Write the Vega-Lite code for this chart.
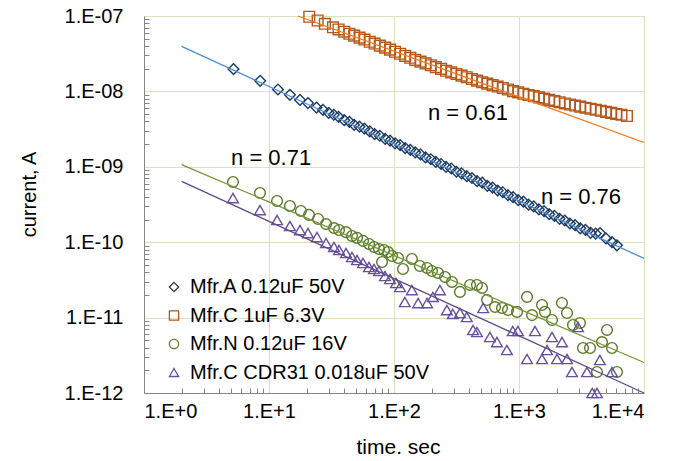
{
  "$schema": "https://vega.github.io/schema/vega-lite/v6.json",
  "width": 500,
  "height": 377,
  "autosize": {"type": "none"},
  "padding": {"left": 144, "top": 16, "right": 37, "bottom": 68},
  "background": "white",
  "config": {
    "view": {"stroke": "#868686", "strokeWidth": 1},
    "font": "Liberation Sans",
    "legend": {
      "orient": "none", "legendX": 20, "legendY": 261, "padding": 0,
      "labelFont": "Liberation Sans", "labelFontSize": 20, "labelColor": "#000000", "labelLimit": 400,
      "symbolSize": 85, "symbolStrokeWidth": 1.3, "symbolOpacity": 1,
      "rowPadding": 8.5, "labelOffset": 6
    }
  },
  "datasets": {
    "pts": [
      {"s": "Mfr.A 0.12uF 50V", "t": 5.2, "i": 1.98e-8},
      {"s": "Mfr.A 0.12uF 50V", "t": 8.5, "i": 1.38e-8},
      {"s": "Mfr.A 0.12uF 50V", "t": 11.8, "i": 1.06e-8},
      {"s": "Mfr.A 0.12uF 50V", "t": 14.7, "i": 9.0e-9},
      {"s": "Mfr.A 0.12uF 50V", "t": 17.7, "i": 7.7e-9},
      {"s": "Mfr.A 0.12uF 50V", "t": 20.5, "i": 7.0e-9},
      {"s": "Mfr.A 0.12uF 50V", "t": 24, "i": 6.1e-9},
      {"s": "Mfr.A 0.12uF 50V", "t": 27, "i": 5.7e-9},
      {"s": "Mfr.A 0.12uF 50V", "t": 30, "i": 5.2e-9},
      {"s": "Mfr.A 0.12uF 50V", "t": 33, "i": 4.9e-9},
      {"s": "Mfr.A 0.12uF 50V", "t": 36, "i": 4.6e-9},
      {"s": "Mfr.A 0.12uF 50V", "t": 40, "i": 4.15e-9},
      {"s": "Mfr.A 0.12uF 50V", "t": 44, "i": 3.95e-9},
      {"s": "Mfr.A 0.12uF 50V", "t": 48, "i": 3.6e-9},
      {"s": "Mfr.A 0.12uF 50V", "t": 53, "i": 3.4e-9},
      {"s": "Mfr.A 0.12uF 50V", "t": 58, "i": 3.2e-9},
      {"s": "Mfr.A 0.12uF 50V", "t": 64, "i": 2.95e-9},
      {"s": "Mfr.A 0.12uF 50V", "t": 70, "i": 2.72e-9},
      {"s": "Mfr.A 0.12uF 50V", "t": 77, "i": 2.58e-9},
      {"s": "Mfr.A 0.12uF 50V", "t": 85, "i": 2.35e-9},
      {"s": "Mfr.A 0.12uF 50V", "t": 93, "i": 2.22e-9},
      {"s": "Mfr.A 0.12uF 50V", "t": 102, "i": 2.05e-9},
      {"s": "Mfr.A 0.12uF 50V", "t": 112, "i": 1.94e-9},
      {"s": "Mfr.A 0.12uF 50V", "t": 123, "i": 1.77e-9},
      {"s": "Mfr.A 0.12uF 50V", "t": 135, "i": 1.68e-9},
      {"s": "Mfr.A 0.12uF 50V", "t": 148, "i": 1.55e-9},
      {"s": "Mfr.A 0.12uF 50V", "t": 163, "i": 1.46e-9},
      {"s": "Mfr.A 0.12uF 50V", "t": 179, "i": 1.33e-9},
      {"s": "Mfr.A 0.12uF 50V", "t": 197, "i": 1.26e-9},
      {"s": "Mfr.A 0.12uF 50V", "t": 216, "i": 1.16e-9},
      {"s": "Mfr.A 0.12uF 50V", "t": 238, "i": 1.09e-9},
      {"s": "Mfr.A 0.12uF 50V", "t": 261, "i": 1.0e-9},
      {"s": "Mfr.A 0.12uF 50V", "t": 287, "i": 9.5e-10},
      {"s": "Mfr.A 0.12uF 50V", "t": 316, "i": 8.6e-10},
      {"s": "Mfr.A 0.12uF 50V", "t": 347, "i": 8.2e-10},
      {"s": "Mfr.A 0.12uF 50V", "t": 382, "i": 7.5e-10},
      {"s": "Mfr.A 0.12uF 50V", "t": 420, "i": 7.1e-10},
      {"s": "Mfr.A 0.12uF 50V", "t": 462, "i": 6.45e-10},
      {"s": "Mfr.A 0.12uF 50V", "t": 508, "i": 6.15e-10},
      {"s": "Mfr.A 0.12uF 50V", "t": 558, "i": 5.6e-10},
      {"s": "Mfr.A 0.12uF 50V", "t": 614, "i": 5.3e-10},
      {"s": "Mfr.A 0.12uF 50V", "t": 675, "i": 4.85e-10},
      {"s": "Mfr.A 0.12uF 50V", "t": 742, "i": 4.6e-10},
      {"s": "Mfr.A 0.12uF 50V", "t": 816, "i": 4.2e-10},
      {"s": "Mfr.A 0.12uF 50V", "t": 897, "i": 3.95e-10},
      {"s": "Mfr.A 0.12uF 50V", "t": 986, "i": 3.62e-10},
      {"s": "Mfr.A 0.12uF 50V", "t": 1085, "i": 3.45e-10},
      {"s": "Mfr.A 0.12uF 50V", "t": 1193, "i": 3.15e-10},
      {"s": "Mfr.A 0.12uF 50V", "t": 1312, "i": 2.98e-10},
      {"s": "Mfr.A 0.12uF 50V", "t": 1443, "i": 2.72e-10},
      {"s": "Mfr.A 0.12uF 50V", "t": 1587, "i": 2.58e-10},
      {"s": "Mfr.A 0.12uF 50V", "t": 1745, "i": 2.35e-10},
      {"s": "Mfr.A 0.12uF 50V", "t": 1920, "i": 2.24e-10},
      {"s": "Mfr.A 0.12uF 50V", "t": 2112, "i": 2.04e-10},
      {"s": "Mfr.A 0.12uF 50V", "t": 2323, "i": 1.94e-10},
      {"s": "Mfr.A 0.12uF 50V", "t": 2555, "i": 1.77e-10},
      {"s": "Mfr.A 0.12uF 50V", "t": 2810, "i": 1.68e-10},
      {"s": "Mfr.A 0.12uF 50V", "t": 3090, "i": 1.53e-10},
      {"s": "Mfr.A 0.12uF 50V", "t": 3400, "i": 1.46e-10},
      {"s": "Mfr.A 0.12uF 50V", "t": 3740, "i": 1.33e-10},
      {"s": "Mfr.A 0.12uF 50V", "t": 4110, "i": 1.3e-10},
      {"s": "Mfr.A 0.12uF 50V", "t": 4450, "i": 1.32e-10},
      {"s": "Mfr.A 0.12uF 50V", "t": 4970, "i": 1.12e-10},
      {"s": "Mfr.A 0.12uF 50V", "t": 5550, "i": 1.0e-10},
      {"s": "Mfr.A 0.12uF 50V", "t": 6080, "i": 9.1e-11},
      {"s": "Mfr.C 1uF 6.3V", "t": 21, "i": 9.77e-8},
      {"s": "Mfr.C 1uF 6.3V", "t": 24.5, "i": 8.71e-8},
      {"s": "Mfr.C 1uF 6.3V", "t": 28, "i": 7.88e-8},
      {"s": "Mfr.C 1uF 6.3V", "t": 32.5, "i": 7.08e-8},
      {"s": "Mfr.C 1uF 6.3V", "t": 36, "i": 6.63e-8},
      {"s": "Mfr.C 1uF 6.3V", "t": 40, "i": 6.19e-8},
      {"s": "Mfr.C 1uF 6.3V", "t": 44, "i": 5.82e-8},
      {"s": "Mfr.C 1uF 6.3V", "t": 48, "i": 5.5e-8},
      {"s": "Mfr.C 1uF 6.3V", "t": 53, "i": 5.16e-8},
      {"s": "Mfr.C 1uF 6.3V", "t": 58, "i": 4.87e-8},
      {"s": "Mfr.C 1uF 6.3V", "t": 64, "i": 4.56e-8},
      {"s": "Mfr.C 1uF 6.3V", "t": 70, "i": 4.31e-8},
      {"s": "Mfr.C 1uF 6.3V", "t": 77, "i": 4.05e-8},
      {"s": "Mfr.C 1uF 6.3V", "t": 85, "i": 3.8e-8},
      {"s": "Mfr.C 1uF 6.3V", "t": 93, "i": 3.58e-8},
      {"s": "Mfr.C 1uF 6.3V", "t": 102, "i": 3.36e-8},
      {"s": "Mfr.C 1uF 6.3V", "t": 112, "i": 3.16e-8},
      {"s": "Mfr.C 1uF 6.3V", "t": 123, "i": 2.96e-8},
      {"s": "Mfr.C 1uF 6.3V", "t": 135, "i": 2.79e-8},
      {"s": "Mfr.C 1uF 6.3V", "t": 148, "i": 2.62e-8},
      {"s": "Mfr.C 1uF 6.3V", "t": 163, "i": 2.48e-8},
      {"s": "Mfr.C 1uF 6.3V", "t": 179, "i": 2.35e-8},
      {"s": "Mfr.C 1uF 6.3V", "t": 197, "i": 2.22e-8},
      {"s": "Mfr.C 1uF 6.3V", "t": 216, "i": 2.1e-8},
      {"s": "Mfr.C 1uF 6.3V", "t": 238, "i": 1.99e-8},
      {"s": "Mfr.C 1uF 6.3V", "t": 261, "i": 1.88e-8},
      {"s": "Mfr.C 1uF 6.3V", "t": 287, "i": 1.79e-8},
      {"s": "Mfr.C 1uF 6.3V", "t": 316, "i": 1.7e-8},
      {"s": "Mfr.C 1uF 6.3V", "t": 347, "i": 1.62e-8},
      {"s": "Mfr.C 1uF 6.3V", "t": 382, "i": 1.54e-8},
      {"s": "Mfr.C 1uF 6.3V", "t": 420, "i": 1.46e-8},
      {"s": "Mfr.C 1uF 6.3V", "t": 462, "i": 1.39e-8},
      {"s": "Mfr.C 1uF 6.3V", "t": 508, "i": 1.32e-8},
      {"s": "Mfr.C 1uF 6.3V", "t": 558, "i": 1.27e-8},
      {"s": "Mfr.C 1uF 6.3V", "t": 614, "i": 1.21e-8},
      {"s": "Mfr.C 1uF 6.3V", "t": 675, "i": 1.16e-8},
      {"s": "Mfr.C 1uF 6.3V", "t": 742, "i": 1.11e-8},
      {"s": "Mfr.C 1uF 6.3V", "t": 816, "i": 1.06e-8},
      {"s": "Mfr.C 1uF 6.3V", "t": 897, "i": 1.01e-8},
      {"s": "Mfr.C 1uF 6.3V", "t": 986, "i": 9.7e-9},
      {"s": "Mfr.C 1uF 6.3V", "t": 1085, "i": 9.31e-9},
      {"s": "Mfr.C 1uF 6.3V", "t": 1193, "i": 8.97e-9},
      {"s": "Mfr.C 1uF 6.3V", "t": 1312, "i": 8.65e-9},
      {"s": "Mfr.C 1uF 6.3V", "t": 1443, "i": 8.34e-9},
      {"s": "Mfr.C 1uF 6.3V", "t": 1587, "i": 8.02e-9},
      {"s": "Mfr.C 1uF 6.3V", "t": 1745, "i": 7.73e-9},
      {"s": "Mfr.C 1uF 6.3V", "t": 1920, "i": 7.45e-9},
      {"s": "Mfr.C 1uF 6.3V", "t": 2112, "i": 7.18e-9},
      {"s": "Mfr.C 1uF 6.3V", "t": 2323, "i": 6.92e-9},
      {"s": "Mfr.C 1uF 6.3V", "t": 2555, "i": 6.7e-9},
      {"s": "Mfr.C 1uF 6.3V", "t": 2810, "i": 6.49e-9},
      {"s": "Mfr.C 1uF 6.3V", "t": 3090, "i": 6.28e-9},
      {"s": "Mfr.C 1uF 6.3V", "t": 3400, "i": 6.08e-9},
      {"s": "Mfr.C 1uF 6.3V", "t": 3740, "i": 5.89e-9},
      {"s": "Mfr.C 1uF 6.3V", "t": 4110, "i": 5.71e-9},
      {"s": "Mfr.C 1uF 6.3V", "t": 4520, "i": 5.53e-9},
      {"s": "Mfr.C 1uF 6.3V", "t": 4970, "i": 5.36e-9},
      {"s": "Mfr.C 1uF 6.3V", "t": 5470, "i": 5.19e-9},
      {"s": "Mfr.C 1uF 6.3V", "t": 6000, "i": 5.02e-9},
      {"s": "Mfr.C 1uF 6.3V", "t": 6600, "i": 4.9e-9},
      {"s": "Mfr.C 1uF 6.3V", "t": 7300, "i": 4.72e-9},
      {"s": "Mfr.N 0.12uF 16V", "t": 5.15, "i": 6.28e-10},
      {"s": "Mfr.N 0.12uF 16V", "t": 8.47, "i": 4.5e-10},
      {"s": "Mfr.N 0.12uF 16V", "t": 11.6, "i": 3.52e-10},
      {"s": "Mfr.N 0.12uF 16V", "t": 14.7, "i": 3.02e-10},
      {"s": "Mfr.N 0.12uF 16V", "t": 18.0, "i": 2.59e-10},
      {"s": "Mfr.N 0.12uF 16V", "t": 20.9, "i": 2.3e-10},
      {"s": "Mfr.N 0.12uF 16V", "t": 24.7, "i": 2.03e-10},
      {"s": "Mfr.N 0.12uF 16V", "t": 28.6, "i": 1.74e-10},
      {"s": "Mfr.N 0.12uF 16V", "t": 33.1, "i": 1.54e-10},
      {"s": "Mfr.N 0.12uF 16V", "t": 36.3, "i": 1.45e-10},
      {"s": "Mfr.N 0.12uF 16V", "t": 41.3, "i": 1.36e-10},
      {"s": "Mfr.N 0.12uF 16V", "t": 46.1, "i": 1.21e-10},
      {"s": "Mfr.N 0.12uF 16V", "t": 50.6, "i": 1.14e-10},
      {"s": "Mfr.N 0.12uF 16V", "t": 56.5, "i": 1.04e-10},
      {"s": "Mfr.N 0.12uF 16V", "t": 63.1, "i": 9.47e-11},
      {"s": "Mfr.N 0.12uF 16V", "t": 69.2, "i": 8.63e-11},
      {"s": "Mfr.N 0.12uF 16V", "t": 75.9, "i": 8.12e-11},
      {"s": "Mfr.N 0.12uF 16V", "t": 83.2, "i": 7.88e-11},
      {"s": "Mfr.N 0.12uF 16V", "t": 80.2, "i": 5.46e-11},
      {"s": "Mfr.N 0.12uF 16V", "t": 89.5, "i": 7.41e-11},
      {"s": "Mfr.N 0.12uF 16V", "t": 96.4, "i": 6.56e-11},
      {"s": "Mfr.N 0.12uF 16V", "t": 108, "i": 6.17e-11},
      {"s": "Mfr.N 0.12uF 16V", "t": 118, "i": 4.41e-11},
      {"s": "Mfr.N 0.12uF 16V", "t": 139, "i": 5.98e-11},
      {"s": "Mfr.N 0.12uF 16V", "t": 161, "i": 4.83e-11},
      {"s": "Mfr.N 0.12uF 16V", "t": 184, "i": 4.55e-11},
      {"s": "Mfr.N 0.12uF 16V", "t": 201, "i": 4.15e-11},
      {"s": "Mfr.N 0.12uF 16V", "t": 225, "i": 3.91e-11},
      {"s": "Mfr.N 0.12uF 16V", "t": 256, "i": 3.46e-11},
      {"s": "Mfr.N 0.12uF 16V", "t": 291, "i": 2.97e-11},
      {"s": "Mfr.N 0.12uF 16V", "t": 337, "i": 2.19e-11},
      {"s": "Mfr.N 0.12uF 16V", "t": 406, "i": 2.71e-11},
      {"s": "Mfr.N 0.12uF 16V", "t": 461, "i": 2.71e-11},
      {"s": "Mfr.N 0.12uF 16V", "t": 506, "i": 2.47e-11},
      {"s": "Mfr.N 0.12uF 16V", "t": 555, "i": 1.71e-11},
      {"s": "Mfr.N 0.12uF 16V", "t": 643, "i": 1.38e-11},
      {"s": "Mfr.N 0.12uF 16V", "t": 731, "i": 1.34e-11},
      {"s": "Mfr.N 0.12uF 16V", "t": 817, "i": 1.26e-11},
      {"s": "Mfr.N 0.12uF 16V", "t": 964, "i": 1.19e-11},
      {"s": "Mfr.N 0.12uF 16V", "t": 1159, "i": 1.88e-11},
      {"s": "Mfr.N 0.12uF 16V", "t": 1271, "i": 1.08e-11},
      {"s": "Mfr.N 0.12uF 16V", "t": 1528, "i": 1.47e-11},
      {"s": "Mfr.N 0.12uF 16V", "t": 1614, "i": 1.19e-11},
      {"s": "Mfr.N 0.12uF 16V", "t": 1837, "i": 9.29e-12},
      {"s": "Mfr.N 0.12uF 16V", "t": 2208, "i": 1.56e-11},
      {"s": "Mfr.N 0.12uF 16V", "t": 2421, "i": 1.15e-11},
      {"s": "Mfr.N 0.12uF 16V", "t": 2704, "i": 7.98e-12},
      {"s": "Mfr.N 0.12uF 16V", "t": 3076, "i": 8.48e-12},
      {"s": "Mfr.N 0.12uF 16V", "t": 3251, "i": 3.95e-12},
      {"s": "Mfr.N 0.12uF 16V", "t": 3698, "i": 3.95e-12},
      {"s": "Mfr.N 0.12uF 16V", "t": 4207, "i": 1.9e-12},
      {"s": "Mfr.N 0.12uF 16V", "t": 4613, "i": 4.74e-12},
      {"s": "Mfr.N 0.12uF 16V", "t": 5058, "i": 6.86e-12},
      {"s": "Mfr.N 0.12uF 16V", "t": 5546, "i": 3.95e-12},
      {"s": "Mfr.N 0.12uF 16V", "t": 6081, "i": 1.9e-12},
      {"s": "Mfr.C CDR31 0.018uF 50V", "t": 5.15, "i": 3.85e-10},
      {"s": "Mfr.C CDR31 0.018uF 50V", "t": 8.47, "i": 2.67e-10},
      {"s": "Mfr.C CDR31 0.018uF 50V", "t": 11.6, "i": 1.97e-10},
      {"s": "Mfr.C CDR31 0.018uF 50V", "t": 14.7, "i": 1.64e-10},
      {"s": "Mfr.C CDR31 0.018uF 50V", "t": 17.7, "i": 1.45e-10},
      {"s": "Mfr.C CDR31 0.018uF 50V", "t": 20.5, "i": 1.32e-10},
      {"s": "Mfr.C CDR31 0.018uF 50V", "t": 24.2, "i": 1.17e-10},
      {"s": "Mfr.C CDR31 0.018uF 50V", "t": 28.6, "i": 9.75e-11},
      {"s": "Mfr.C CDR31 0.018uF 50V", "t": 33.1, "i": 8.63e-11},
      {"s": "Mfr.C CDR31 0.018uF 50V", "t": 36.3, "i": 7.88e-11},
      {"s": "Mfr.C CDR31 0.018uF 50V", "t": 41.3, "i": 7.19e-11},
      {"s": "Mfr.C CDR31 0.018uF 50V", "t": 46.1, "i": 6.37e-11},
      {"s": "Mfr.C CDR31 0.018uF 50V", "t": 50.6, "i": 5.81e-11},
      {"s": "Mfr.C CDR31 0.018uF 50V", "t": 56.5, "i": 5.3e-11},
      {"s": "Mfr.C CDR31 0.018uF 50V", "t": 63.1, "i": 4.69e-11},
      {"s": "Mfr.C CDR31 0.018uF 50V", "t": 69.2, "i": 4.41e-11},
      {"s": "Mfr.C CDR31 0.018uF 50V", "t": 75.9, "i": 4.15e-11},
      {"s": "Mfr.C CDR31 0.018uF 50V", "t": 84.7, "i": 3.56e-11},
      {"s": "Mfr.C CDR31 0.018uF 50V", "t": 92.9, "i": 3.25e-11},
      {"s": "Mfr.C CDR31 0.018uF 50V", "t": 103.8, "i": 2.88e-11},
      {"s": "Mfr.C CDR31 0.018uF 50V", "t": 111.7, "i": 2.55e-11},
      {"s": "Mfr.C CDR31 0.018uF 50V", "t": 122, "i": 1.61e-11},
      {"s": "Mfr.C CDR31 0.018uF 50V", "t": 139, "i": 2.32e-11},
      {"s": "Mfr.C CDR31 0.018uF 50V", "t": 156, "i": 1.56e-11},
      {"s": "Mfr.C CDR31 0.018uF 50V", "t": 184, "i": 1.56e-11},
      {"s": "Mfr.C CDR31 0.018uF 50V", "t": 205, "i": 1.88e-11},
      {"s": "Mfr.C CDR31 0.018uF 50V", "t": 233, "i": 2.32e-11},
      {"s": "Mfr.C CDR31 0.018uF 50V", "t": 265, "i": 1.26e-11},
      {"s": "Mfr.C CDR31 0.018uF 50V", "t": 295, "i": 1.12e-11},
      {"s": "Mfr.C CDR31 0.018uF 50V", "t": 337, "i": 1.15e-11},
      {"s": "Mfr.C CDR31 0.018uF 50V", "t": 382, "i": 1.02e-11},
      {"s": "Mfr.C CDR31 0.018uF 50V", "t": 429, "i": 6.86e-12},
      {"s": "Mfr.C CDR31 0.018uF 50V", "t": 461, "i": 6.45e-12},
      {"s": "Mfr.C CDR31 0.018uF 50V", "t": 517, "i": 1.34e-11},
      {"s": "Mfr.C CDR31 0.018uF 50V", "t": 585, "i": 5.53e-12},
      {"s": "Mfr.C CDR31 0.018uF 50V", "t": 666, "i": 4.74e-12},
      {"s": "Mfr.C CDR31 0.018uF 50V", "t": 800, "i": 3.72e-12},
      {"s": "Mfr.C CDR31 0.018uF 50V", "t": 891, "i": 6.64e-12},
      {"s": "Mfr.C CDR31 0.018uF 50V", "t": 980, "i": 6.64e-12},
      {"s": "Mfr.C CDR31 0.018uF 50V", "t": 1159, "i": 2.83e-12},
      {"s": "Mfr.C CDR31 0.018uF 50V", "t": 1342, "i": 6.64e-12},
      {"s": "Mfr.C CDR31 0.018uF 50V", "t": 1528, "i": 2.83e-12},
      {"s": "Mfr.C CDR31 0.018uF 50V", "t": 1677, "i": 3.72e-12},
      {"s": "Mfr.C CDR31 0.018uF 50V", "t": 1837, "i": 5.53e-12},
      {"s": "Mfr.C CDR31 0.018uF 50V", "t": 2013, "i": 2.83e-12},
      {"s": "Mfr.C CDR31 0.018uF 50V", "t": 2208, "i": 4.74e-12},
      {"s": "Mfr.C CDR31 0.018uF 50V", "t": 2421, "i": 2.83e-12},
      {"s": "Mfr.C CDR31 0.018uF 50V", "t": 2654, "i": 1.9e-12},
      {"s": "Mfr.C CDR31 0.018uF 50V", "t": 2966, "i": 7.5e-12},
      {"s": "Mfr.C CDR31 0.018uF 50V", "t": 3497, "i": 1.9e-12},
      {"s": "Mfr.C CDR31 0.018uF 50V", "t": 3854, "i": 1.0e-12},
      {"s": "Mfr.C CDR31 0.018uF 50V", "t": 4207, "i": 1.0e-12},
      {"s": "Mfr.C CDR31 0.018uF 50V", "t": 4436, "i": 2.74e-12},
      {"s": "Mfr.C CDR31 0.018uF 50V", "t": 5546, "i": 1.9e-12}
    ],
    "fits": [
      {"f": "fitA", "t": 2, "i": 3.95e-8},
      {"f": "fitA", "t": 10000, "i": 6.1e-11},
      {"f": "fitC", "t": 17, "i": 1.0e-7},
      {"f": "fitC", "t": 10000, "i": 2.1e-9},
      {"f": "fitN", "t": 2, "i": 1.07e-9},
      {"f": "fitN", "t": 10000, "i": 2.54e-12},
      {"f": "fitD", "t": 2, "i": 6.4e-10},
      {"f": "fitD", "t": 10000, "i": 1.0e-12}
    ],
    "notes": [
      {"t": 391, "i": 5.18e-9, "txt": "n = 0.61"},
      {"t": 10.4, "i": 1.31e-9, "txt": "n = 0.71"},
      {"t": 3133, "i": 3.98e-10, "txt": "n = 0.76"}
    ]
  },
  "resolve": {"axis": {"x": "independent", "y": "independent"}},
  "layer": [
    {
      "data": {"name": "pts"},
      "mark": {"type": "point", "filled": false, "strokeWidth": 1.4, "size": 115, "opacity": 1},
      "encoding": {
        "x": {
          "field": "t", "type": "quantitative",
          "scale": {"type": "log", "domain": [1, 10000], "nice": false},
          "axis": {
            "orient": "bottom", "values": [1, 10, 100, 1000, 10000],
            "labelExpr": "'1.E+' + round(log(datum.value)/LN10)",
            "labelFont": "Liberation Sans", "labelFontSize": 20, "labelColor": "#000000",
            "labelPadding": 8, "ticks": false, "domainColor": "#868686",
            "grid": true, "gridColor": "#D7E4BD", "gridWidth": 1,
            "title": "time. sec", "titleFont": "Liberation Sans", "titleFontSize": 21,
            "titleFontWeight": "normal", "titleColor": "#000000",
            "titleX": 254, "titleY": 54, "titleBaseline": "middle", "titleAlign": "center"
          }
        },
        "y": {
          "field": "i", "type": "quantitative",
          "scale": {"type": "log", "domain": [1e-12, 1e-7], "nice": false},
          "axis": {
            "orient": "left", "values": [1e-12, 1e-11, 1e-10, 1e-9, 1e-8, 1e-7],
            "labelExpr": "'1.E-' + (round(-log(datum.value)/LN10) < 10 ? '0' : '') + round(-log(datum.value)/LN10)",
            "labelFont": "Liberation Sans", "labelFontSize": 20, "labelColor": "#000000",
            "labelPadding": 21, "ticks": false, "domainColor": "#868686",
            "grid": true, "gridColor": "#D7E4BD", "gridWidth": 1,
            "title": "current, A", "titleFont": "Liberation Sans", "titleFontSize": 20,
            "titleFontWeight": "normal", "titleColor": "#000000",
            "titleX": -115, "titleY": 178, "titleBaseline": "middle", "titleAngle": -90, "titleAlign": "center"
          }
        },
        "color": {
          "field": "s", "type": "nominal",
          "scale": {
            "domain": ["Mfr.A 0.12uF 50V", "Mfr.C 1uF 6.3V", "Mfr.N 0.12uF 16V", "Mfr.C CDR31 0.018uF 50V"],
            "range": ["#1F3A60", "#B5571A", "#5A7A28", "#6650A0"]
          },
          "legend": {"title": null}
        },
        "shape": {
          "field": "s", "type": "nominal",
          "scale": {
            "domain": ["Mfr.A 0.12uF 50V", "Mfr.C 1uF 6.3V", "Mfr.N 0.12uF 16V", "Mfr.C CDR31 0.018uF 50V"],
            "range": ["diamond", "square", "circle", "triangle-up"]
          },
          "legend": {"title": null}
        }
      }
    },
    {
      "data": {"name": "fits"},
      "transform": [{"filter": "datum.f == 'fitA'"}],
      "mark": {"type": "line", "strokeWidth": 1.3, "color": "#4A90D9"},
      "encoding": {
        "x": {
          "field": "t", "type": "quantitative",
          "scale": {"type": "log", "domain": [1, 10000], "nice": false},
          "axis": {
            "orient": "bottom",
            "values": [2, 3, 4, 5, 6, 7, 8, 9, 20, 30, 40, 50, 60, 70, 80, 90, 200, 300, 400, 500, 600, 700, 800, 900, 2000, 3000, 4000, 5000, 6000, 7000, 8000, 9000],
            "labels": false, "domain": false, "grid": false, "ticks": true,
            "tickSize": -5, "tickColor": "#868686", "title": null
          }
        },
        "y": {
          "field": "i", "type": "quantitative",
          "scale": {"type": "log", "domain": [1e-12, 1e-7], "nice": false},
          "axis": {
            "orient": "left",
            "values": [2e-12, 3e-12, 4e-12, 5e-12, 6e-12, 7e-12, 8e-12, 9e-12, 2e-11, 3e-11, 4e-11, 5e-11, 6e-11, 7e-11, 8e-11, 9e-11, 2e-10, 3e-10, 4e-10, 5e-10, 6e-10, 7e-10, 8e-10, 9e-10, 2e-9, 3e-9, 4e-9, 5e-9, 6e-9, 7e-9, 8e-9, 9e-9, 2e-8, 3e-8, 4e-8, 5e-8, 6e-8, 7e-8, 8e-8, 9e-8],
            "labels": false, "domain": false, "grid": false, "ticks": true,
            "tickSize": -5, "tickColor": "#868686", "title": null
          }
        }
      }
    },
    {
      "data": {"name": "fits"},
      "transform": [{"filter": "datum.f == 'fitC'"}],
      "mark": {"type": "line", "strokeWidth": 1.3, "color": "#F27A1A"},
      "encoding": {
        "x": {"field": "t", "type": "quantitative", "scale": {"type": "log", "domain": [1, 10000], "nice": false}, "axis": null},
        "y": {"field": "i", "type": "quantitative", "scale": {"type": "log", "domain": [1e-12, 1e-7], "nice": false}, "axis": null}
      }
    },
    {
      "data": {"name": "fits"},
      "transform": [{"filter": "datum.f == 'fitN'"}],
      "mark": {"type": "line", "strokeWidth": 1.3, "color": "#77963A"},
      "encoding": {
        "x": {"field": "t", "type": "quantitative", "scale": {"type": "log", "domain": [1, 10000], "nice": false}, "axis": null},
        "y": {"field": "i", "type": "quantitative", "scale": {"type": "log", "domain": [1e-12, 1e-7], "nice": false}, "axis": null}
      }
    },
    {
      "data": {"name": "fits"},
      "transform": [{"filter": "datum.f == 'fitD'"}],
      "mark": {"type": "line", "strokeWidth": 1.3, "color": "#5F4A8B"},
      "encoding": {
        "x": {"field": "t", "type": "quantitative", "scale": {"type": "log", "domain": [1, 10000], "nice": false}, "axis": null},
        "y": {"field": "i", "type": "quantitative", "scale": {"type": "log", "domain": [1e-12, 1e-7], "nice": false}, "axis": null}
      }
    },
    {
      "data": {"name": "notes"},
      "mark": {"type": "text", "font": "Liberation Sans", "fontSize": 22, "color": "#000000", "align": "center", "baseline": "middle"},
      "encoding": {
        "x": {"field": "t", "type": "quantitative", "scale": {"type": "log", "domain": [1, 10000], "nice": false}, "axis": null},
        "y": {"field": "i", "type": "quantitative", "scale": {"type": "log", "domain": [1e-12, 1e-7], "nice": false}, "axis": null},
        "text": {"field": "txt"}
      }
    }
  ]
}
